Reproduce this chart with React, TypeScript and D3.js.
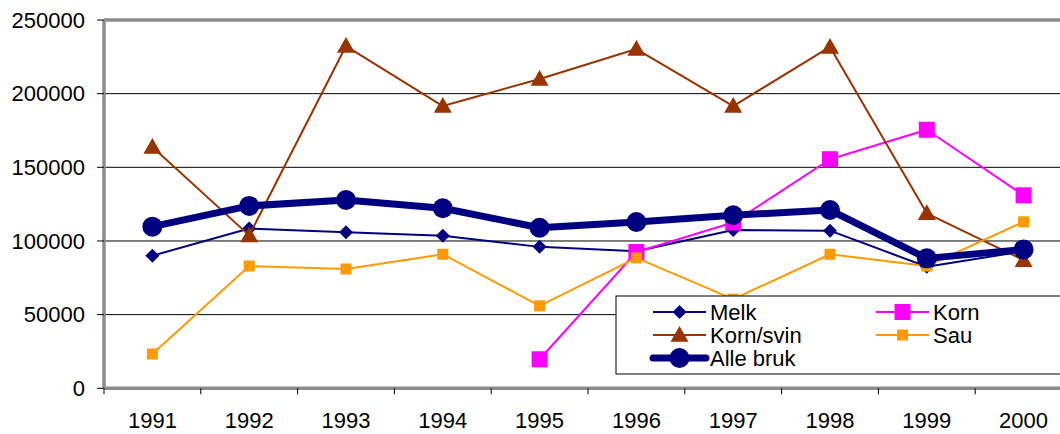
import React from "react";
import * as d3 from "d3";

const years = ["1991","1992","1993","1994","1995","1996","1997","1998","1999","2000"];
const melk = [90000,108500,106000,103500,96000,93000,107500,107000,82500,93000];
const korn: (number|null)[] = [null,null,null,null,19700,92500,112500,155500,175500,131000];
const kornSvin = [163800,103800,232300,191600,210000,230300,191600,231700,118800,87000];
const sau = [23300,83000,81000,91000,56000,88500,60500,91000,83000,113000];
const alle = [109700,123800,127800,122200,109000,112900,117500,121000,88200,94300];
const yTicks = [0,50000,100000,150000,200000,250000];

const W = 1060, H = 434;
const left = 104, top = 20, bottom = 388.3;
const band = 96.8;

export default function App() {
  const x = d3.scaleBand().domain(years).range([left, left + band * years.length]);
  const y = d3.scaleLinear().domain([0, 250000]).range([bottom, top]);
  const cx = (i: number) => (x(years[i]) as number) + x.bandwidth() / 2;
  const font = "'Liberation Sans', Arial, sans-serif";

  const lineGen = (vals: (number|null)[]) =>
    d3.line<number|null>()
      .defined(d => d !== null)
      .x((_, i) => cx(i))
      .y(d => y(d as number))(vals) || "";

  const diamond = (px: number, py: number, s: number) =>
    `M${px},${py - s}L${px + s},${py}L${px},${py + s}L${px - s},${py}Z`;
  const tri = (px: number, py: number, s: number) =>
    `M${px},${py - s}L${px + s},${py + s * 0.75}L${px - s},${py + s * 0.75}Z`;

  const navy = "#000080", mag = "#FF00FF", brown = "#993300", orange = "#FF9900";

  const series = [
    { name: "Melk", vals: melk as (number|null)[], color: navy, w: 2, m: "diamond", s: 7 },
    { name: "Korn", vals: korn, color: mag, w: 2, m: "square", s: 8 },
    { name: "Korn/svin", vals: kornSvin as (number|null)[], color: brown, w: 2, m: "tri", s: 9 },
    { name: "Sau", vals: sau as (number|null)[], color: orange, w: 2, m: "smallsq", s: 5.5 },
    { name: "Alle bruk", vals: alle as (number|null)[], color: navy, w: 7, m: "circle", s: 10 },
  ];

  const marker = (m: string, px: number, py: number, s: number, color: string, key?: string) => {
    if (m === "diamond") return <path key={key} d={diamond(px, py, s)} fill={color} />;
    if (m === "tri") return <path key={key} d={tri(px, py, s)} fill={color} />;
    if (m === "circle") return <circle key={key} cx={px} cy={py} r={s} fill={color} />;
    return <rect key={key} x={px - s} y={py - s} width={2 * s} height={2 * s} fill={color} />;
  };

  const legendItems = [
    { si: 0, lx: 653, ly: 312 },
    { si: 1, lx: 876, ly: 312 },
    { si: 2, lx: 653, ly: 335 },
    { si: 3, lx: 876, ly: 335 },
    { si: 4, lx: 653, ly: 358 },
  ];

  return (
    <svg width={W} height={H} style={{ position: "absolute", left: 0, top: 0 }}>
      <rect x={0} y={0} width={W} height={H} fill="#fff" />
      {yTicks.slice(1, -1).map(t => (
        <line key={t} x1={left} x2={W} y1={y(t)} y2={y(t)} stroke="#000" strokeWidth={1} />
      ))}
      {/* frame */}
      <line x1={left} x2={W} y1={top} y2={top} stroke="#8c8c8c" strokeWidth={3.5} />
      <line x1={left} x2={W} y1={bottom} y2={bottom} stroke="#8c8c8c" strokeWidth={3.5} />
      <line x1={left} x2={left} y1={top} y2={bottom} stroke="#8c8c8c" strokeWidth={3.5} />
      {/* y ticks */}
      {yTicks.map(t => (
        <g key={t}>
          <line x1={97} x2={left} y1={y(t)} y2={y(t)} stroke="#000" strokeWidth={1} />
          <text x={85} y={y(t)} dy="0.35em" textAnchor="end" fontFamily={font} fontSize={22}>{t}</text>
        </g>
      ))}
      {/* x ticks */}
      {years.map((yr, i) => (
        <g key={yr}>
          <line x1={(x(yr) as number)} x2={(x(yr) as number)} y1={bottom} y2={bottom + 6} stroke="#000" />
          <text x={cx(i)} y={428} textAnchor="middle" fontFamily={font} fontSize={22}>{yr}</text>
        </g>
      ))}
      <line x1={left + band * 10} x2={left + band * 10} y1={bottom} y2={bottom + 6} stroke="#000" />
      {/* series */}
      {series.map(s => (
        <g key={s.name}>
          <path d={lineGen(s.vals)} fill="none" stroke={s.color} strokeWidth={s.w} strokeLinejoin="round" />
          {s.vals.map((v, i) => v === null ? null : marker(s.m, cx(i), y(v), s.s, s.color, s.name + i))}
        </g>
      ))}
      {/* legend */}
      <rect x={616} y={296} width={460} height={78} fill="#fff" stroke="#000" strokeWidth={1} />
      {legendItems.map(li => {
        const s = series[li.si];
        return (
          <g key={s.name}>
            <line x1={li.lx} x2={li.lx + 53} y1={li.ly} y2={li.ly} stroke={s.color} strokeWidth={s.w} strokeLinecap={s.w > 3 ? "round" : "butt"} />
            {marker(s.m, li.lx + 26.5, li.ly, s.s, s.color)}
            <text x={li.lx + 57} y={li.ly} dy="0.35em" fontFamily={font} fontSize={22}>{s.name}</text>
          </g>
        );
      })}
    </svg>
  );
}
